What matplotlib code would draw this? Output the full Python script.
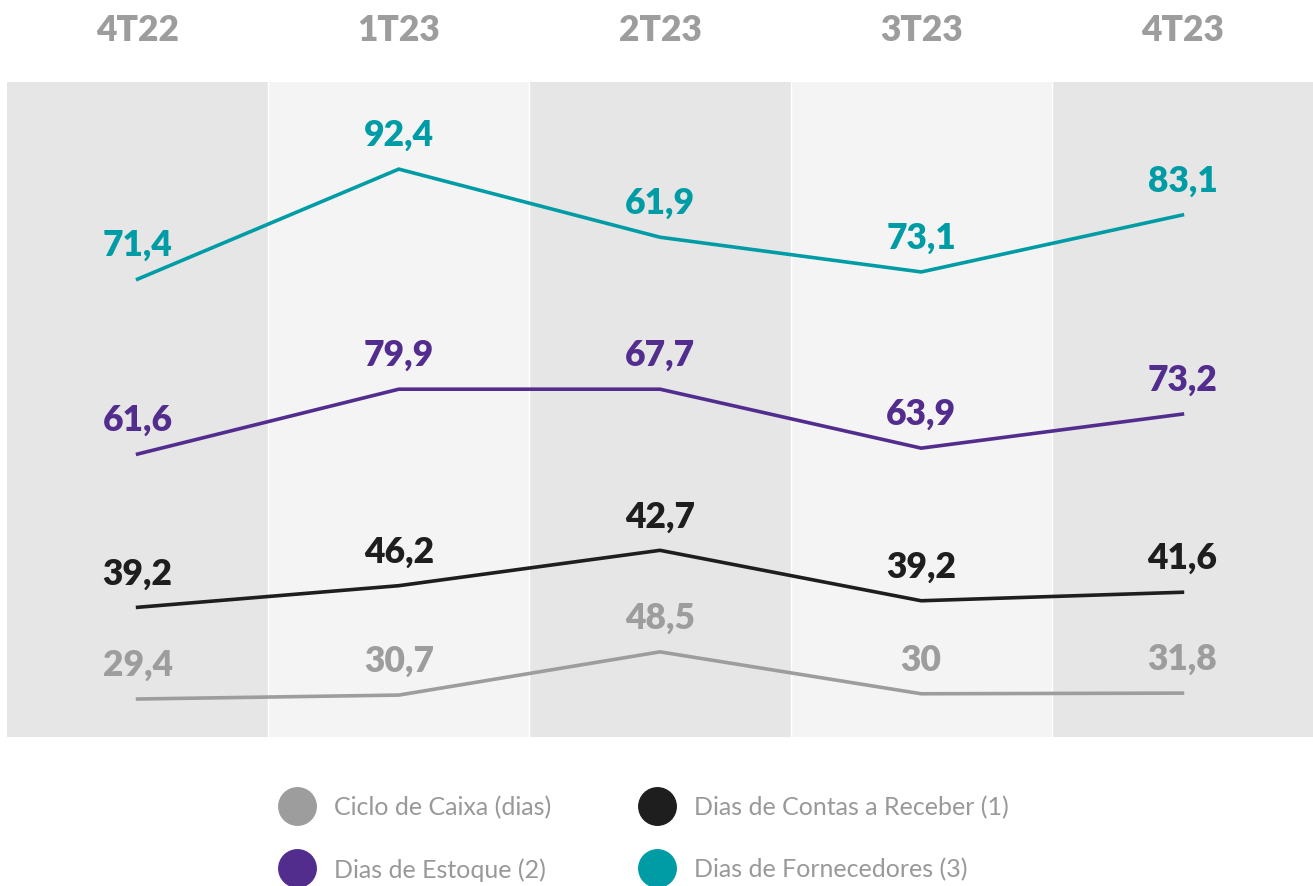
import matplotlib.pyplot as plt
from matplotlib.lines import Line2D

# Trimestres
trimestres = ["4T22", "1T23", "2T23", "3T23", "4T23"]

# Rotulos (valores em dias) de cada serie
ciclo_caixa = ["29,4", "30,7", "48,5", "30", "31,8"]
contas_receber = ["39,2", "46,2", "42,7", "39,2", "41,6"]
estoque = ["61,6", "79,9", "67,7", "63,9", "73,2"]
fornecedores = ["71,4", "92,4", "61,9", "73,1", "83,1"]

# Altura de cada linha (escala 0-100 do painel)
nivel_ciclo = [5.8, 6.4, 13.0, 6.6, 6.7]
nivel_contas = [19.8, 23.1, 28.5, 20.8, 22.1]
nivel_estoque = [43.2, 53.1, 53.1, 44.1, 49.3]
nivel_fornec = [69.9, 86.7, 76.3, 71.0, 79.7]

nomes = ["Ciclo de Caixa (dias)", "Dias de Contas a Receber (1)",
         "Dias de Estoque (2)", "Dias de Fornecedores (3)"]
cores = ["#9d9d9d", "#1e1e1e", "#532d8e", "#009ca6"]

plt.rcParams['font.family'] = ['Lato', 'DejaVu Sans']

fig = plt.figure(figsize=(13.13, 8.87), dpi=100)
ax = fig.add_axes([7 / 1313, 1 - 738 / 887, 1306 / 1313, 655 / 887])

x = list(range(len(trimestres)))
for i in x:
    cor = "#e6e6e6" if i % 2 == 0 else "#f4f4f4"
    ax.axvspan(i - 0.5, i + 0.5, color=cor, lw=0, zorder=0)
    if i > 0:
        ax.axvline(i - 0.5, color="white", lw=1, zorder=1)

series = [(nivel_ciclo, ciclo_caixa), (nivel_contas, contas_receber),
          (nivel_estoque, estoque), (nivel_fornec, fornecedores)]
for (niveis, rotulos), cor in zip(series, cores):
    ax.plot(x, niveis, color=cor, lw=2.6, zorder=3, solid_joinstyle="miter")
    for xi, yi, r in zip(x, niveis, rotulos):
        ax.annotate(r, (xi, yi), xytext=(0, 13), textcoords="offset points",
                    ha="center", va="bottom", color=cor, fontsize=25.5,
                    fontweight="heavy", zorder=4)

ax.set_xlim(-0.5, 4.5)
ax.set_ylim(0, 100)
ax.xaxis.tick_top()
ax.set_xticks(x)
ax.set_xticklabels(trimestres, fontsize=25.5, fontweight="heavy", color="#9d9d9d")
ax.tick_params(axis="x", length=0, pad=26)
ax.set_yticks([])
for s in ax.spines.values():
    s.set_visible(False)

handles = [Line2D([], [], ls="none", marker="o", markersize=27,
                  markerfacecolor=c, markeredgecolor=c) for c in cores]
# ordem por coluna: (Ciclo, Estoque) e (Contas, Fornecedores)
ordem = [0, 2, 1, 3]
leg = fig.legend([handles[i] for i in ordem], [nomes[i] for i in ordem],
                 ncol=2, loc="upper left", bbox_to_anchor=(282 / 1313, 1 - 796 / 887),
                 frameon=False, handletextpad=0.9, columnspacing=3.6,
                 labelspacing=1.55, borderpad=0, borderaxespad=0, handlelength=1.2,
                 prop={"family": ["Lato", "DejaVu Sans"], "weight": "normal", "size": 18})
for t in leg.get_texts():
    t.set_color("#999999")

fig.savefig("out.png", dpi=100, facecolor="white")
